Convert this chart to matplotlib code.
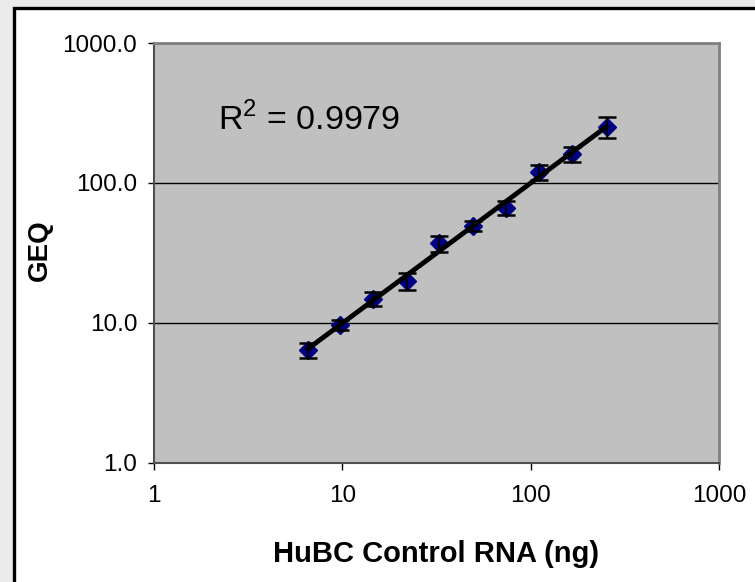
import numpy as np
import matplotlib
matplotlib.use("Agg")
import matplotlib.pyplot as plt
from matplotlib.patches import Rectangle

plt.rcParams['font.family'] = ['Liberation Sans', 'DejaVu Sans']
plt.rcParams['mathtext.fontset'] = 'custom'
plt.rcParams['mathtext.rm'] = 'Liberation Sans'

# ---- data ----
rna_ng = [6.55, 9.75, 14.5, 22.0, 32.8, 49.5, 74.0, 111.0, 166.0, 253.0]
geq = [6.4, 9.7, 14.8, 19.8, 37.0, 49.5, 66.5, 120.0, 161.0, 252.0]
geq_err = [0.8, 0.8, 1.7, 2.7, 4.9, 4.1, 8.0, 15.0, 19.0, 43.0]

x_ticks = [1, 10, 100, 1000]
x_tick_labels = ['1', '10', '100', '1000']
y_ticks = [1, 10, 100, 1000]
y_tick_labels = ['1.0', '10.0', '100.0', '1000.0']
r2_label = 'R$^{2}$ = 0.9979'

W, H = 755, 582
fig = plt.figure(figsize=(W / 100, H / 100), dpi=100)
fig.patch.set_facecolor('#ebebeb')

# white chart area with black frame (runs off the right/bottom edge)
fig.patches.append(Rectangle((14 / W, -0.1), 1.2, (H - 8) / H + 0.1,
                             transform=fig.transFigure, facecolor='white',
                             edgecolor='black', linewidth=2.4, zorder=-1))

ax = fig.add_axes([154 / W, (H - 462.5) / H, (719 - 154) / W, (462.5 - 43) / H])
ax.set_zorder(1)
ax.set_facecolor('#c0c0c0')
ax.set_xscale('log')
ax.set_yscale('log')
ax.set_xlim(1, 1000)
ax.set_ylim(1, 1000)

ax.set_xticks(x_ticks)
ax.set_xticklabels(x_tick_labels)
ax.set_yticks(y_ticks)
ax.set_yticklabels(y_tick_labels)
ax.minorticks_off()
ax.tick_params(axis='x', length=5, width=1, pad=11, labelsize=17.5, colors='black')
ax.tick_params(axis='y', length=4, width=1, pad=8, labelsize=17.5, colors='black')

for side in ['top', 'right']:
    ax.spines[side].set_color('#808080')
    ax.spines[side].set_linewidth(2)
for side in ['left', 'bottom']:
    ax.spines[side].set_color('#505050')
    ax.spines[side].set_linewidth(1.5)

ax.yaxis.grid(True, color='black', linewidth=1)
ax.set_axisbelow(True)

# points, error bars, power trendline
ax.plot(rna_ng, geq, linestyle='none', marker='D', markersize=9,
        color='#000080', zorder=3)
ax.errorbar(rna_ng, geq, yerr=geq_err, fmt='none', ecolor='black',
            elinewidth=1.2, capsize=6.4, capthick=1.8, zorder=4)

slope, intercept = np.polyfit(np.log10(rna_ng), np.log10(geq), 1)
fit_x = np.array([min(rna_ng), max(rna_ng)])
fit_y = 10 ** (intercept + slope * np.log10(fit_x))
ax.plot(fit_x, fit_y, color='black', linewidth=3.5, solid_capstyle='round', zorder=5)

fig.text(218 / W, (H - 130) / H, r2_label, fontsize=24.5, va='baseline', ha='left',
         zorder=2)

fig.text(436 / W, (H - 554) / H, 'HuBC Control RNA (ng)', fontsize=21,
         fontweight='bold', ha='center', va='center')
fig.text(40 / W, (H - 250) / H, 'GEQ', fontsize=20, fontweight='bold',
         rotation=90, ha='center', va='center')

plt.savefig('out.png', dpi=100)
